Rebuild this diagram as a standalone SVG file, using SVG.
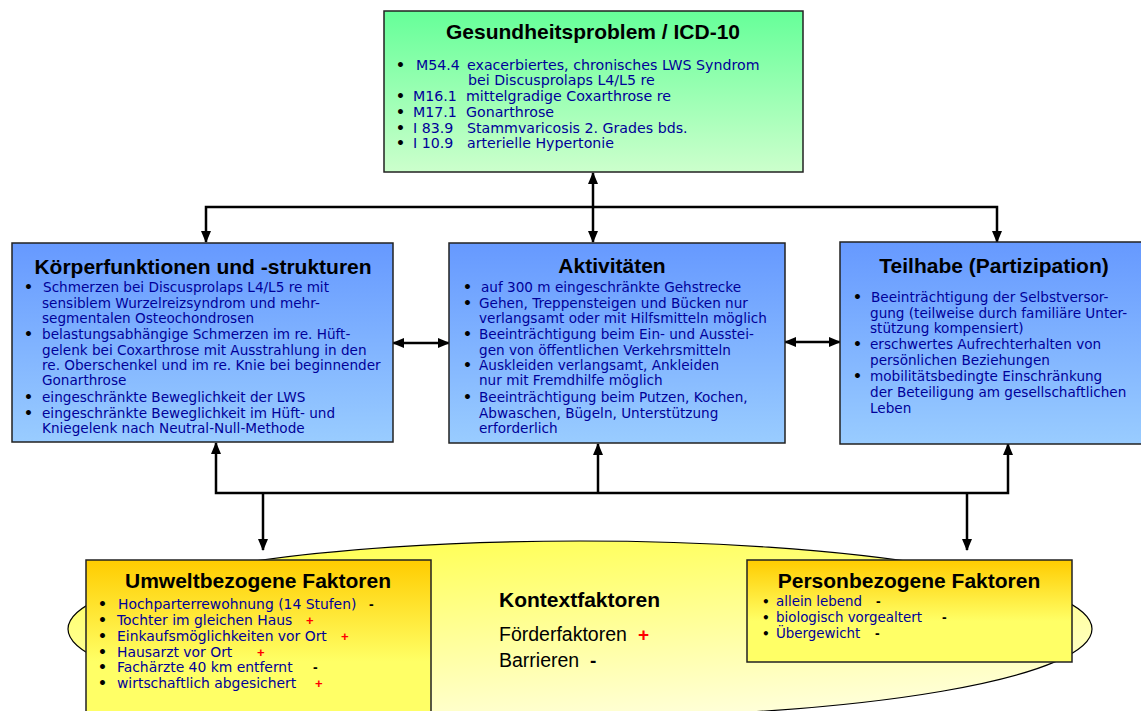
<svg xmlns="http://www.w3.org/2000/svg" width="1141" height="711" viewBox="0 0 1141 711">
<style>
.ttl{font-family:"Liberation Sans",Arial,sans-serif;font-weight:bold;font-size:21px;fill:#000;text-anchor:middle}
.it{font-family:"DejaVu Sans",sans-serif;font-size:13.6px;fill:#000099}
.it13{font-family:"DejaVu Sans",sans-serif;font-size:14.2px;fill:#000099}
.itu{font-family:"DejaVu Sans",sans-serif;font-size:13.9px;fill:#000099}
.bl{font-family:"DejaVu Sans",sans-serif;font-weight:bold;font-size:14px;fill:#000}
.sg{font-family:"Liberation Sans",Arial,sans-serif;font-weight:bold;font-size:14px;fill:#000}
.pl{font-family:"Liberation Sans",Arial,sans-serif;font-weight:bold;font-size:13px;fill:#ff0000}
.box{stroke:#222;stroke-width:1.5}
.con{fill:none;stroke:#000;stroke-width:2.5}
.ctx{font-family:"Liberation Sans",Arial,sans-serif;font-size:19.5px;fill:#000}
</style>
<defs>
<linearGradient id="gGreen" x1="0" y1="0" x2="0" y2="1"><stop offset="0" stop-color="#66FF99"/><stop offset="1" stop-color="#CCFFCC"/></linearGradient>
<linearGradient id="gBlue" x1="0" y1="0" x2="0" y2="1"><stop offset="0" stop-color="#6699FF"/><stop offset="1" stop-color="#99CCFF"/></linearGradient>
<linearGradient id="gOrange" x1="0" y1="0" x2="0" y2="1"><stop offset="0" stop-color="#FFCC00"/><stop offset="0.6" stop-color="#FFFF66"/><stop offset="1" stop-color="#FFFF66"/></linearGradient>
<linearGradient id="gYel" x1="0.3" y1="0" x2="0.7" y2="1"><stop offset="0" stop-color="#FFFF55"/><stop offset="1" stop-color="#FFFFDD"/></linearGradient>
<marker id="ah" markerUnits="userSpaceOnUse" markerWidth="12" markerHeight="10" refX="11" refY="5" orient="auto-start-reverse" viewBox="0 0 12 10"><path d="M0,0 L12,5 L0,10 z" fill="#000"/></marker>
</defs>
<rect width="1141" height="711" fill="#fff"/>

<g id="kontext">
<ellipse cx="580" cy="629" rx="512" ry="88" fill="url(#gYel)" stroke="#000" stroke-width="1.2"/>
<text class="ctx" x="499" y="607" style="font-weight:bold;font-size:21px">Kontextfaktoren</text>
<text class="ctx" x="499" y="641">Förderfaktoren</text>
<text class="pl" x="638" y="641" style="font-size:19px">+</text>
<text class="ctx" x="499" y="667">Barrieren</text>
<text class="sg" x="590" y="667" style="font-size:19px">-</text>
</g>

<g id="connectors">
<line class="con" x1="593" y1="173" x2="593" y2="242" marker-start="url(#ah)" marker-end="url(#ah)"/>
<polyline class="con" points="206,242 206,207 997,207 997,242" marker-start="url(#ah)" marker-end="url(#ah)"/>
<line class="con" x1="393" y1="343" x2="449" y2="343" marker-start="url(#ah)" marker-end="url(#ah)"/>
<line class="con" x1="785" y1="342" x2="840" y2="342" marker-start="url(#ah)" marker-end="url(#ah)"/>
<polyline class="con" points="216,443 216,493 1008,493 1008,444" marker-start="url(#ah)" marker-end="url(#ah)"/>
<line class="con" x1="598" y1="493" x2="598" y2="444" marker-end="url(#ah)"/>
<line class="con" x1="263" y1="493" x2="263" y2="550" marker-end="url(#ah)"/>
<line class="con" x1="967" y1="493" x2="967" y2="550" marker-end="url(#ah)"/>
</g>

<g id="gesundheitsproblem">
<rect class="box" x="384" y="11" width="419" height="161" fill="url(#gGreen)"/>
<text class="ttl" x="593" y="39">Gesundheitsproblem / ICD-10</text>
<text class="bl" x="396" y="70">•</text><text class="it13" x="416" y="70">M54.4</text><text class="it13" x="467" y="70">exacerbiertes, chronisches LWS Syndrom</text>
<text class="it13" x="468" y="85">bei Discusprolaps L4/L5 re</text>
<text class="bl" x="396" y="101">•</text><text class="it13" x="413" y="101">M16.1</text><text class="it13" x="466" y="101">mittelgradige Coxarthrose re</text>
<text class="bl" x="396" y="117">•</text><text class="it13" x="413" y="117">M17.1</text><text class="it13" x="466" y="117">Gonarthrose</text>
<text class="bl" x="396" y="133">•</text><text class="it13" x="413" y="133">I 83.9</text><text class="it13" x="467" y="133">Stammvaricosis 2. Grades bds.</text>
<text class="bl" x="396" y="148">•</text><text class="it13" x="413" y="148">I 10.9</text><text class="it13" x="467" y="148">arterielle Hypertonie</text>
</g>

<g id="koerperfunktionen">
<rect class="box" x="12" y="243" width="381" height="199" fill="url(#gBlue)"/>
<text class="ttl" x="203" y="274">Körperfunktionen und -strukturen</text>
<text class="bl" x="24" y="292">•</text><text class="it" x="43" y="292">Schmerzen bei Discusprolaps L4/L5 re mit</text>
<text class="it" x="42" y="308">sensiblem Wurzelreizsyndrom und mehr-</text>
<text class="it" x="42" y="323">segmentalen Osteochondrosen</text>
<text class="bl" x="24" y="339">•</text><text class="it" x="42" y="339">belastungsabhängige Schmerzen im re. Hüft-</text>
<text class="it" x="42" y="355">gelenk bei Coxarthrose mit Ausstrahlung in den</text>
<text class="it" x="42" y="370">re. Oberschenkel und im re. Knie bei beginnender</text>
<text class="it" x="42" y="385">Gonarthrose</text>
<text class="bl" x="24" y="402">•</text><text class="it" x="42" y="402">eingeschränkte Beweglichkeit der LWS</text>
<text class="bl" x="24" y="418">•</text><text class="it" x="42" y="418">eingeschränkte Beweglichkeit im Hüft- und</text>
<text class="it" x="42" y="433">Kniegelenk nach Neutral-Null-Methode</text>
</g>

<g id="aktivitaeten">
<rect class="box" x="449" y="243" width="336" height="200" fill="url(#gBlue)"/>
<text class="ttl" x="612" y="273">Aktivitäten</text>
<text class="bl" x="463" y="292">•</text><text class="it" x="481" y="292">auf 300 m eingeschränkte Gehstrecke</text>
<text class="bl" x="463" y="308">•</text><text class="it" x="479" y="308">Gehen, Treppensteigen und Bücken nur</text>
<text class="it" x="479" y="323">verlangsamt oder mit Hilfsmitteln möglich</text>
<text class="bl" x="463" y="339">•</text><text class="it" x="479" y="339">Beeinträchtigung beim Ein- und Ausstei-</text>
<text class="it" x="479" y="355">gen von öffentlichen Verkehrsmitteln</text>
<text class="bl" x="463" y="370">•</text><text class="it" x="479" y="370">Auskleiden verlangsamt, Ankleiden</text>
<text class="it" x="479" y="385">nur mit Fremdhilfe möglich</text>
<text class="bl" x="463" y="402">•</text><text class="it" x="479" y="402">Beeinträchtigung beim Putzen, Kochen,</text>
<text class="it" x="479" y="418">Abwaschen, Bügeln, Unterstützung</text>
<text class="it" x="479" y="433">erforderlich</text>
</g>

<g id="teilhabe">
<rect class="box" x="840" y="242" width="305" height="202" fill="url(#gBlue)"/>
<text class="ttl" x="994" y="273">Teilhabe (Partizipation)</text>
<text class="bl" x="853" y="302">•</text><text class="it" x="871" y="302">Beeinträchtigung der Selbstversor-</text>
<text class="it" x="870" y="318">gung (teilweise durch familiäre Unter-</text>
<text class="it" x="870" y="333">stützung kompensiert)</text>
<text class="bl" x="853" y="349">•</text><text class="it" x="870" y="349">erschwertes Aufrechterhalten von</text>
<text class="it" x="870" y="365">persönlichen Beziehungen</text>
<text class="bl" x="853" y="381">•</text><text class="it" x="870" y="381">mobilitätsbedingte Einschränkung</text>
<text class="it" x="870" y="397">der Beteiligung am gesellschaftlichen</text>
<text class="it" x="870" y="413">Leben</text>
</g>

<g id="umweltfaktoren">
<rect class="box" x="86" y="560" width="345" height="170" fill="url(#gOrange)"/>
<text class="ttl" x="258" y="588">Umweltbezogene Faktoren</text>
<text class="bl" x="98" y="609">•</text><text class="itu" x="118" y="609">Hochparterrewohnung (14 Stufen)</text><text class="sg" x="369" y="609">-</text>
<text class="bl" x="98" y="625">•</text><text class="itu" x="117" y="625">Tochter im gleichen Haus</text><text class="pl" x="306" y="625">+</text>
<text class="bl" x="98" y="641">•</text><text class="itu" x="117" y="641">Einkaufsmöglichkeiten vor Ort</text><text class="pl" x="341" y="641">+</text>
<text class="bl" x="98" y="657">•</text><text class="itu" x="117" y="657">Hausarzt vor Ort</text><text class="pl" x="257" y="657">+</text>
<text class="bl" x="98" y="672">•</text><text class="itu" x="117" y="672">Fachärzte 40 km entfernt</text><text class="sg" x="313" y="672">-</text>
<text class="bl" x="98" y="688">•</text><text class="itu" x="117" y="688">wirtschaftlich abgesichert</text><text class="pl" x="315" y="688">+</text>
</g>

<g id="personfaktoren">
<rect class="box" x="747" y="560" width="325" height="102" fill="url(#gOrange)"/>
<text class="ttl" x="909" y="588">Personbezogene Faktoren</text>
<text class="bl" x="762" y="606" style="font-size:12px">•</text><text class="it" x="776" y="606" style="font-size:13.4px">allein lebend</text><text class="sg" x="876" y="606">-</text>
<text class="bl" x="762" y="622" style="font-size:12px">•</text><text class="it" x="776" y="622" style="font-size:13.4px">biologisch vorgealtert</text><text class="sg" x="942" y="622">-</text>
<text class="bl" x="762" y="638" style="font-size:12px">•</text><text class="it" x="776" y="638" style="font-size:13.4px">Übergewicht</text><text class="sg" x="875" y="638">-</text>
</g>
</svg>
